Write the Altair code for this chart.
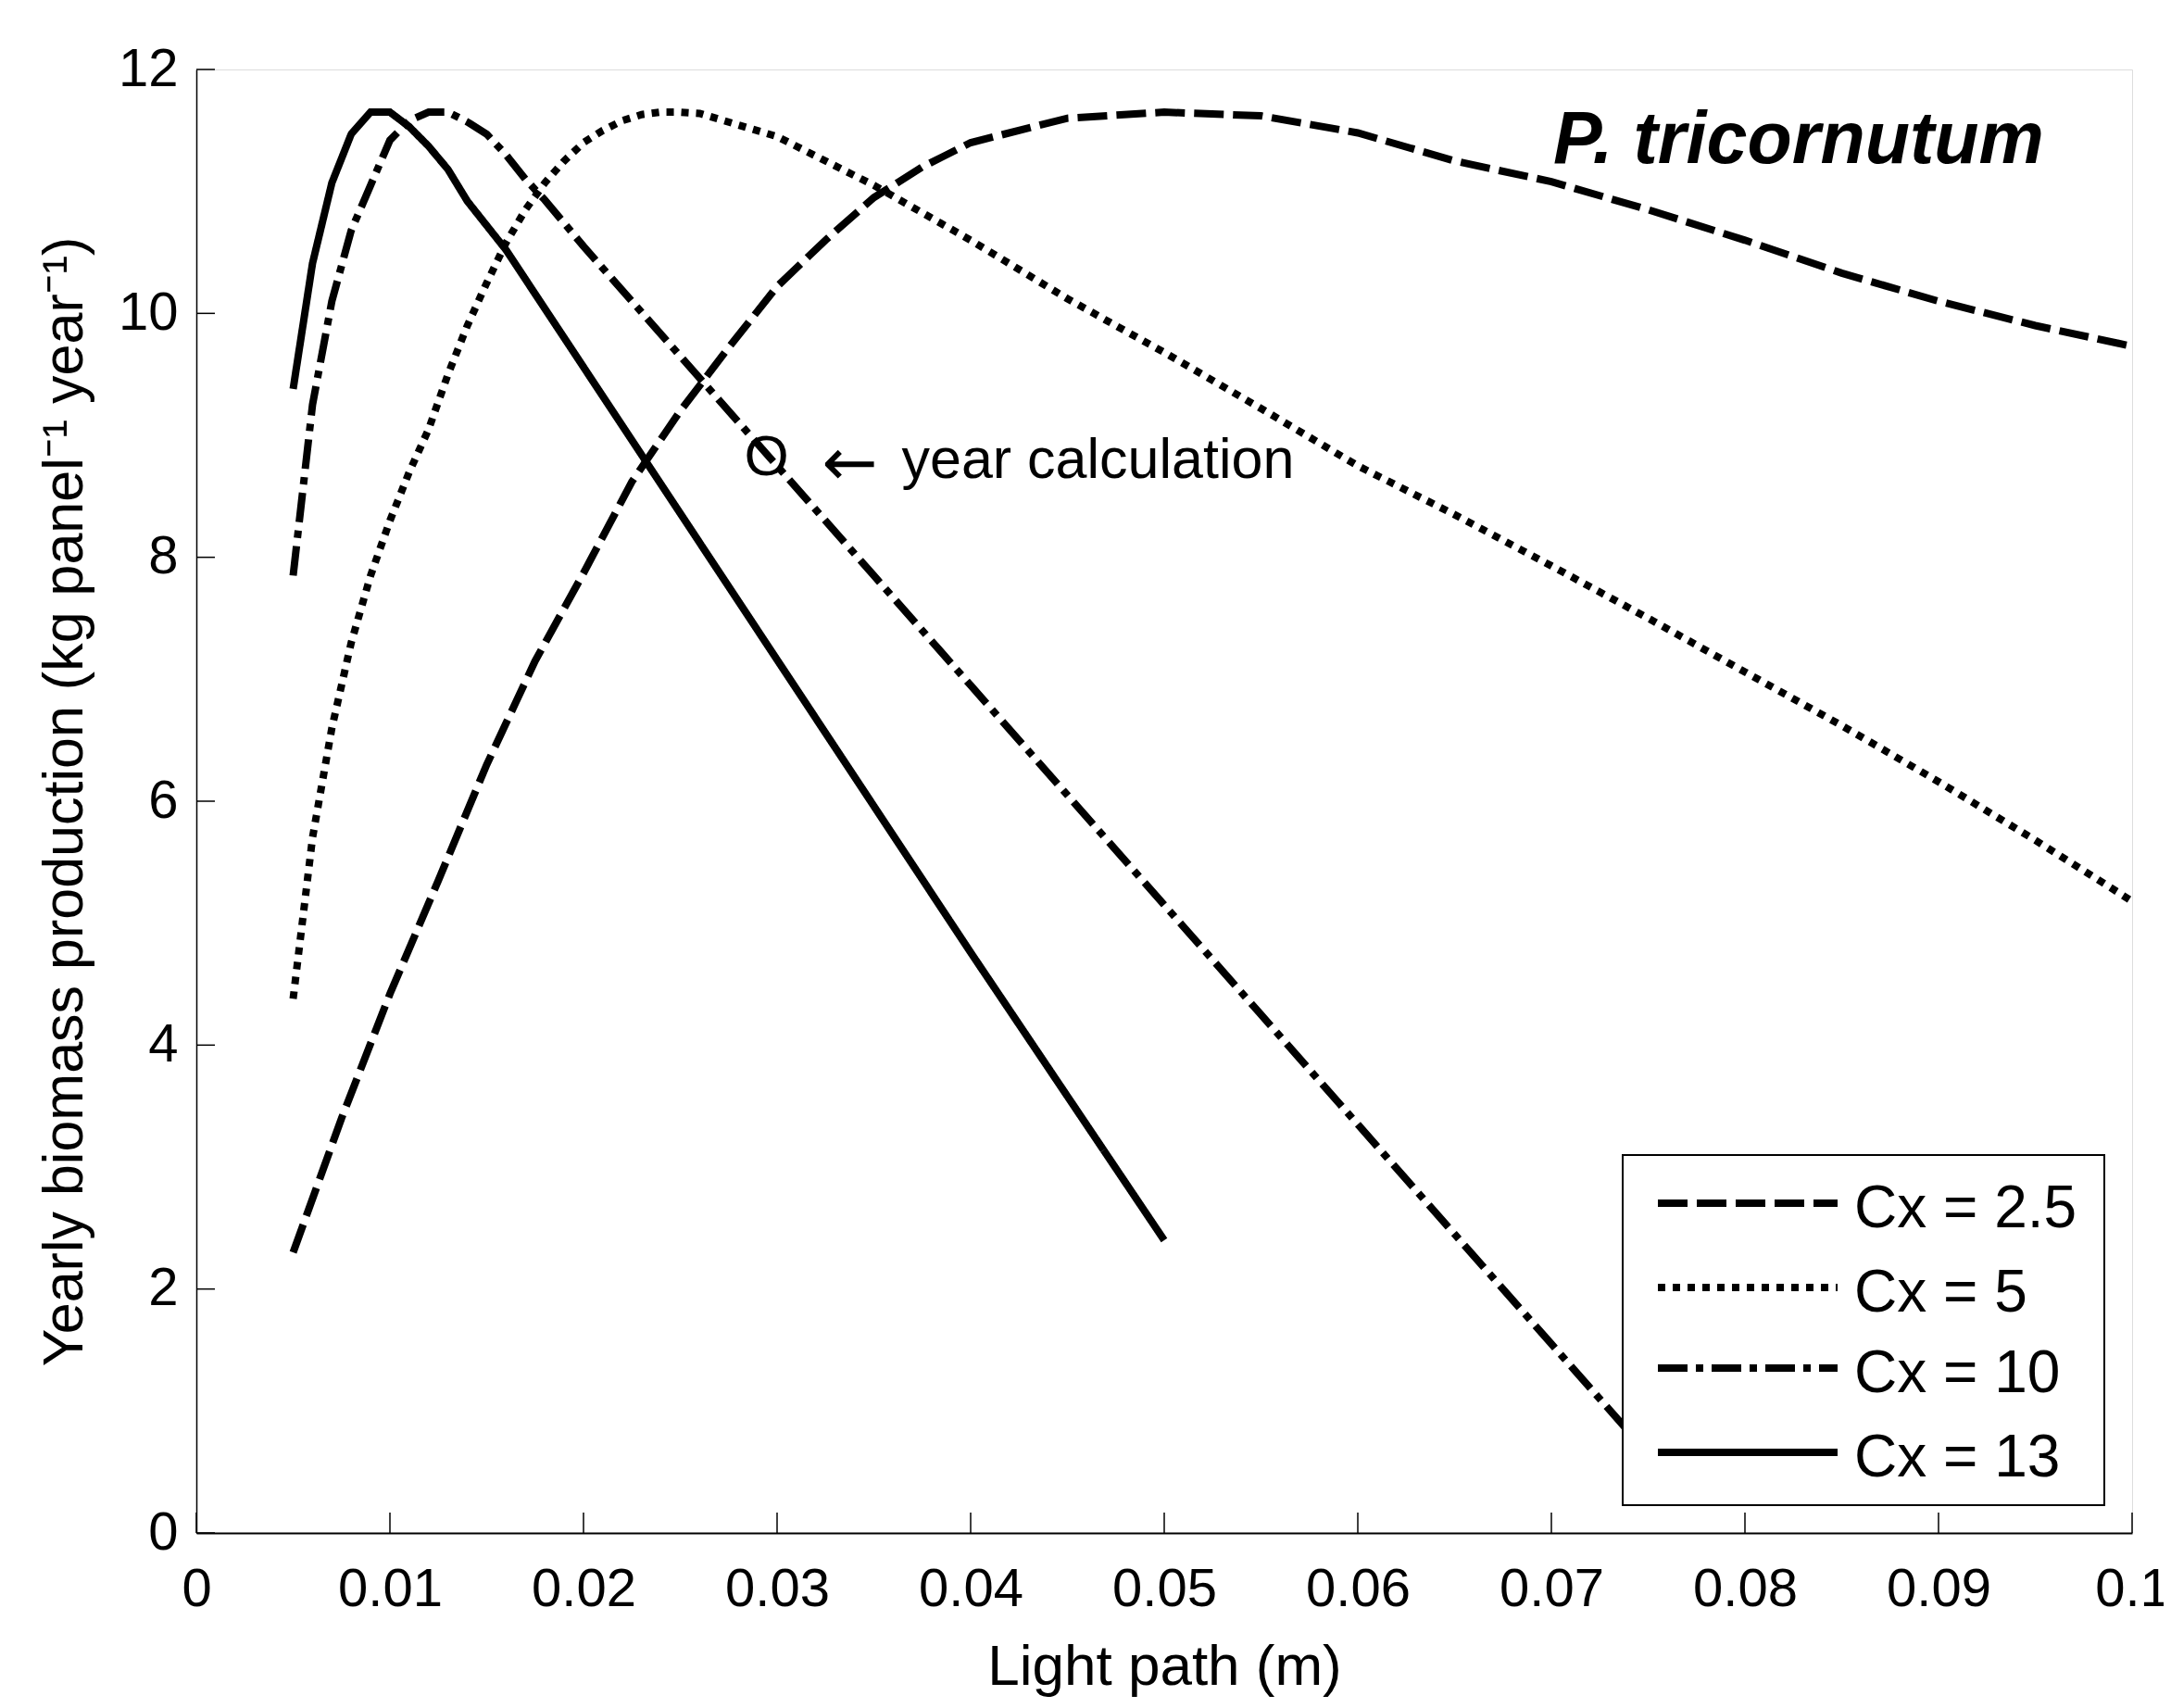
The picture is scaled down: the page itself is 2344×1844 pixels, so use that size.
import altair as alt
import pandas as pd

# ---- data ----
series_names = ["Cx = 2.5", "Cx = 5", "Cx = 10", "Cx = 13"]

x_cx25 = [0.005, 0.0075, 0.01, 0.0125, 0.015, 0.0175, 0.02, 0.0225, 0.025, 0.0275,
          0.03, 0.0325, 0.035, 0.0375, 0.04, 0.045, 0.05, 0.055, 0.06, 0.065,
          0.07, 0.075, 0.08, 0.085, 0.09, 0.095, 0.1]
y_cx25 = [2.3, 3.4, 4.42, 5.35, 6.3, 7.15, 7.87, 8.62, 9.2, 9.72,
          10.22, 10.6, 10.95, 11.2, 11.4, 11.6, 11.65, 11.62, 11.48, 11.25,
          11.08, 10.85, 10.6, 10.33, 10.1, 9.9, 9.73]

x_cx5 = [0.005, 0.006, 0.007, 0.008, 0.009, 0.010, 0.011, 0.012, 0.013, 0.014,
         0.015, 0.016, 0.017, 0.018, 0.019, 0.020, 0.021, 0.022, 0.023, 0.024,
         0.025, 0.026, 0.03, 0.035, 0.04, 0.045, 0.05, 0.055, 0.06, 0.065,
         0.07, 0.075, 0.08, 0.085, 0.09, 0.095, 0.1]
y_cx5 = [4.38, 5.7, 6.6, 7.3, 7.85, 8.3, 8.7, 9.05, 9.5, 9.9,
         10.25, 10.58, 10.85, 11.07, 11.25, 11.4, 11.5, 11.58, 11.63, 11.65,
         11.65, 11.64, 11.45, 11.05, 10.6, 10.12, 9.68, 9.22, 8.75, 8.35,
         7.93, 7.5, 7.06, 6.62, 6.16, 5.68, 5.18]

x_cx10 = [0.005, 0.006, 0.007, 0.008, 0.009, 0.010, 0.011, 0.012, 0.013, 0.014,
          0.015, 0.016, 0.017, 0.018, 0.02, 0.025, 0.03, 0.035, 0.04, 0.045,
          0.05, 0.055, 0.06, 0.065, 0.07, 0.075]
y_cx10 = [7.85, 9.25, 10.1, 10.68, 11.05, 11.42, 11.58, 11.65, 11.65, 11.57,
          11.47, 11.3, 11.1, 10.93, 10.55, 9.65, 8.75, 7.85, 6.95, 6.05,
          5.15, 4.25, 3.35, 2.45, 1.55, 0.65]

x_cx13 = [0.005, 0.006, 0.007, 0.008, 0.009, 0.010, 0.011, 0.012, 0.013, 0.014,
          0.015, 0.016, 0.02, 0.025, 0.03, 0.035, 0.04, 0.045, 0.05]
y_cx13 = [9.38, 10.41, 11.07, 11.47, 11.65, 11.65, 11.53, 11.37, 11.18, 10.92,
          10.72, 10.52, 9.56, 8.36, 7.16, 5.96, 4.76, 3.58, 2.4]

x_ticks = [0, 0.01, 0.02, 0.03, 0.04, 0.05, 0.06, 0.07, 0.08, 0.09, 0.1]
y_ticks = [0, 2, 4, 6, 8, 10, 12]

title_text = "P. tricornutum"
title_pos = (0.0701, 11.23)
note_marker = "O"
note_arrow = "\u2190"
note_text = "year calculation"
note_pos = (0.0283, 8.79)

# ---- build tables ----
rows = []
for name, xs, ys in zip(series_names,
                        [x_cx25, x_cx5, x_cx10, x_cx13],
                        [y_cx25, y_cx5, y_cx10, y_cx13]):
    for xv, yv in zip(xs, ys):
        rows.append({"series": name, "x": xv, "y": yv})
df = pd.DataFrame(rows)

W, H = 2090, 1580
FONT = "Liberation Sans"
LW = 8

xscale = alt.Scale(domain=[0, 0.1], nice=False, zero=False)
yscale = alt.Scale(domain=[0, 12], nice=False)

dash_range = [[32, 10], [8, 8], [32, 9, 8, 9], [1, 0]]

lines = alt.Chart(df).mark_line(color="black", strokeWidth=LW, strokeCap="butt").encode(
    x=alt.X("x:Q", scale=xscale,
            axis=alt.Axis(values=x_ticks, title="Light path (m)", ticks=False, grid=False,
                          labelExpr="format(datum.value, '.2~f')",
                          labelFontSize=58, labelFont=FONT, labelColor="black",
                          labelPadding=32, titleFontSize=62, titleFont=FONT,
                          titleFontWeight="normal", titleColor="black", titlePadding=24,
                          domainColor="black", domainWidth=2, labelFlush=False)),
    y=alt.Y("y:Q", scale=yscale,
            axis=alt.Axis(values=y_ticks, format="d",
                          title="Yearly biomass production (kg panel\u207b\u00b9 year\u207b\u00b9)",
                          ticks=False, grid=False,
                          labelFontSize=58, labelFont=FONT, labelColor="black",
                          labelPadding=20, titleFontSize=61, titleFont=FONT,
                          titleFontWeight="normal", titleColor="black", titlePadding=26,
                          domainColor="black", domainWidth=1.5)),
    strokeDash=alt.StrokeDash("series:N",
                              scale=alt.Scale(domain=series_names, range=dash_range),
                              sort=series_names, legend=None),
)

xt = pd.DataFrame({"v": x_ticks})
yt = pd.DataFrame({"v": y_ticks})
xtick_marks = alt.Chart(xt).mark_rule(color="black", strokeWidth=1.5).encode(
    x=alt.X("v:Q", scale=xscale), y=alt.value(H), y2=alt.value(H - 22))
ytick_marks = alt.Chart(yt).mark_rule(color="black", strokeWidth=1.5).encode(
    y=alt.Y("v:Q", scale=yscale), x=alt.value(0), x2=alt.value(20))

title_df = pd.DataFrame({"x": [title_pos[0]], "y": [title_pos[1]], "t": [title_text]})
title_mark = alt.Chart(title_df).mark_text(
    align="left", baseline="alphabetic", fontSize=79, fontStyle="italic",
    fontWeight="bold", font=FONT, color="black").encode(
    x=alt.X("x:Q", scale=xscale), y=alt.Y("y:Q", scale=yscale), text="t:N")

note_df = pd.DataFrame({"x": [note_pos[0]], "y": [note_pos[1]],
                        "m": [note_marker], "a": [note_arrow], "t": [note_text]})
note_base = alt.Chart(note_df).encode(x=alt.X("x:Q", scale=xscale), y=alt.Y("y:Q", scale=yscale))
note_o = note_base.mark_text(align="left", baseline="middle", fontSize=62, font=FONT,
                             color="black", dy=-4).encode(text="m:N")
note_a = note_base.mark_text(align="left", baseline="middle", fontSize=72, font="DejaVu Sans",
                             color="black", dx=84, dy=4).encode(text="a:N")
note_t = note_base.mark_text(align="left", baseline="middle", fontSize=61, font=FONT,
                             color="black", dx=170).encode(text="t:N")

# ---- legend (drawn as a box with sample lines and labels) ----
LEG_X0, LEG_X1, LEG_Y0, LEG_Y1 = 1540, 2060, 1172, 1550
row_y = [1224, 1315, 1402, 1493]
leg_box = alt.Chart(pd.DataFrame({"d": [0]})).mark_rect(
    fill="white", stroke="black", strokeWidth=2).encode(
    x=alt.value(LEG_X0), x2=alt.value(LEG_X1), y=alt.value(LEG_Y0), y2=alt.value(LEG_Y1))
leg_layers = [leg_box]
for name, dash, ry in zip(series_names, dash_range, row_y):
    one = pd.DataFrame({"label": [name]})
    leg_layers.append(alt.Chart(one).mark_rule(color="black", strokeWidth=LW, strokeCap="butt",
                                               strokeDash=dash).encode(
        x=alt.value(1578), x2=alt.value(1772), y=alt.value(ry)))
    leg_layers.append(alt.Chart(one).mark_text(align="left", baseline="middle", fontSize=64,
                                               font=FONT, color="black").encode(
        x=alt.value(1790), y=alt.value(ry + 7), text="label:N"))

chart = alt.layer(lines, xtick_marks, ytick_marks, title_mark, note_o, note_a, note_t,
                  *leg_layers).properties(
    width=W, height=H,
    padding={"left": 204, "top": 67, "right": 34, "bottom": 181},
    autosize=alt.AutoSizeParams(type="none"),
).configure_view(stroke=None).configure(background="white")

chart.save("out.html", embed_options={"renderer": "svg", "actions": False})
